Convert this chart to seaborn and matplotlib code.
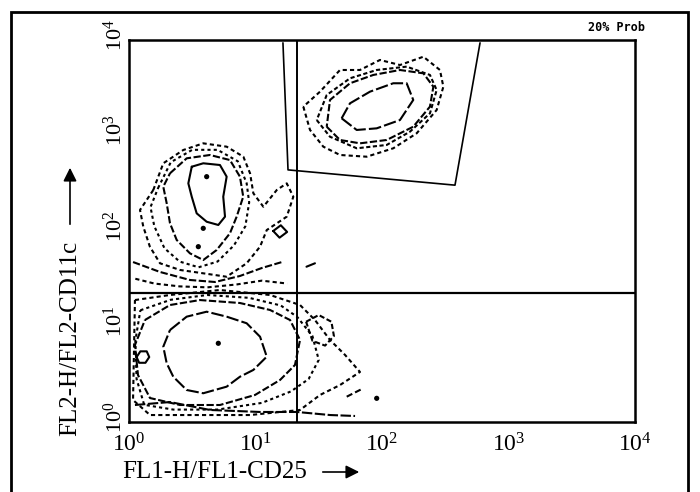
import numpy as np
import matplotlib
matplotlib.use("Agg")
import matplotlib.pyplot as plt
import matplotlib.transforms as mtrans
import seaborn as sns
from matplotlib.patches import Rectangle

# Contour outlines, given in decades (log10 of channel)
# CD11c+ CD25+ population (inside the gate)
hi_inner_x = [1.681, 1.800, 1.958, 2.142, 2.247, 2.195, 2.089, 1.905, 1.747]
hi_inner_y = [3.180, 3.058, 3.075, 3.162, 3.372, 3.547, 3.547, 3.459, 3.337]
hi_mid_x = [1.563, 1.668, 1.826, 2.037, 2.247, 2.379, 2.406, 2.327, 2.142, 1.931, 1.747, 1.589]
hi_mid_y = [3.092, 2.953, 2.918, 2.953, 3.092, 3.302, 3.511, 3.651, 3.686, 3.634, 3.547, 3.372]
hi_mid2_x = [1.484, 1.589, 1.800, 2.037, 2.221, 2.379, 2.432, 2.379, 2.195, 1.958, 1.747, 1.563]
hi_mid2_y = [3.162, 2.987, 2.866, 2.901, 3.040, 3.232, 3.476, 3.634, 3.721, 3.686, 3.599, 3.424]
hi_outer_x = [1.378, 1.431, 1.536, 1.668, 1.879, 2.089, 2.274, 2.432, 2.485, 2.458, 2.327, 2.142,
              1.984, 1.826, 1.668, 1.510]
hi_outer_y = [3.302, 3.058, 2.883, 2.796, 2.778, 2.866, 3.023, 3.267, 3.511, 3.686, 3.825, 3.738,
              3.791, 3.686, 3.686, 3.459]

# CD11c+ CD25- population (upper left)
dc_inner_x = [0.496, 0.587, 0.719, 0.772, 0.745, 0.759, 0.706, 0.614, 0.535, 0.496, 0.469]
dc_inner_y = [2.673, 2.709, 2.691, 2.569, 2.359, 2.150, 2.063, 2.097, 2.185, 2.359, 2.499]
dc_mid_x = [0.324, 0.456, 0.640, 0.798, 0.877, 0.903, 0.851, 0.798, 0.693, 0.587, 0.482, 0.377,
            0.324, 0.298, 0.271]
dc_mid_y = [2.604, 2.761, 2.796, 2.743, 2.569, 2.359, 2.150, 1.976, 1.801, 1.696, 1.766, 1.906,
            2.081, 2.290, 2.464]
dc_mid2_x = [0.23, 0.33, 0.50, 0.70, 0.86, 0.93, 0.95, 0.92, 0.83, 0.70, 0.55, 0.40, 0.28, 0.20, 0.17]
dc_mid2_y = [2.45, 2.72, 2.85, 2.85, 2.73, 2.50, 2.30, 2.05, 1.85, 1.68, 1.62, 1.68, 1.82, 2.05, 2.25]
dc_outer_x = [0.192, 0.271, 0.429, 0.587, 0.772, 0.904, 0.957, 0.983, 1.062, 1.168, 1.247, 1.299,
              1.247, 1.089, 1.036, 0.930, 0.772, 0.587, 0.403, 0.245, 0.165, 0.113, 0.087]
dc_outer_y = [2.429, 2.709, 2.848, 2.918, 2.883, 2.778, 2.604, 2.395, 2.254, 2.429, 2.499, 2.359,
              2.150, 2.010, 1.836, 1.662, 1.521, 1.557, 1.592, 1.662, 1.836, 2.045, 2.220]

# double negative population (lower left)
dn_inner_x = [0.324, 0.456, 0.614, 0.772, 0.930, 1.036, 1.089, 0.983, 0.877, 0.772, 0.587, 0.456,
              0.350, 0.298, 0.271]
dn_inner_y = [0.963, 1.103, 1.155, 1.103, 1.034, 0.893, 0.684, 0.545, 0.474, 0.370, 0.301, 0.335,
              0.474, 0.615, 0.789]
dn_mid_x = [0.126, 0.324, 0.561, 0.877, 1.115, 1.273, 1.352, 1.312, 1.194, 0.996, 0.719, 0.403,
            0.166, 0.071, 0.047]
dn_mid_y = [1.068, 1.225, 1.277, 1.246, 1.173, 1.068, 0.859, 0.597, 0.440, 0.283, 0.178, 0.178,
            0.251, 0.492, 0.806]
dn_mid2_x = [0.09, 0.33, 0.62, 0.95, 1.20, 1.33, 1.45, 1.50, 1.42, 1.28, 1.05, 0.70, 0.35, 0.12,
             0.06, 0.05]
dn_mid2_y = [1.17, 1.28, 1.33, 1.30, 1.22, 1.10, 0.90, 0.65, 0.45, 0.32, 0.20, 0.13, 0.13, 0.18,
             0.45, 0.85]
dn_outer_x = [0.047, 0.324, 0.719, 1.115, 1.352, 1.470, 1.589, 1.708, 1.826, 1.668, 1.510, 1.352,
              0.957, 0.561, 0.166, 0.032]
dn_outer_y = [1.277, 1.330, 1.382, 1.330, 1.225, 1.068, 0.859, 0.702, 0.524, 0.387, 0.283, 0.126,
              0.073, 0.073, 0.073, 0.230]
dn_small_x = [0.06, 0.09, 0.14, 0.16, 0.13, 0.08]
dn_small_y = [0.68, 0.74, 0.74, 0.68, 0.62, 0.62]
dn_side_x = [1.40, 1.50, 1.60, 1.62, 1.55, 1.45]
dn_side_y = [1.05, 1.12, 1.05, 0.90, 0.80, 0.85]

# open fragments
bridge_x = [0.032, 0.245, 0.482, 0.680, 0.877, 1.051, 1.209]
bridge_y = [1.675, 1.571, 1.487, 1.466, 1.529, 1.613, 1.675]
bridge2_x = [0.05, 0.20, 0.40, 0.62, 0.85, 1.05, 1.25]
bridge2_y = [1.50, 1.45, 1.42, 1.41, 1.44, 1.48, 1.45]
floor_x = [0.047, 0.324, 0.640, 1.036, 1.328, 1.589, 1.787]
floor_y = [0.178, 0.209, 0.126, 0.105, 0.105, 0.073, 0.063]
blob_x = [1.14, 1.20, 1.25, 1.19]
blob_y = [2.00, 2.06, 1.99, 1.93]
dash1_x = [1.403, 1.470]
dash1_y = [1.626, 1.662]
dash2_x = [1.721, 1.852]
dash2_y = [0.265, 0.353]
dots_x = [0.614, 0.548, 0.587, 0.706, 1.958]
dots_y = [2.569, 1.836, 2.028, 0.824, 0.248]

# gate and quadrant markers
gate_x = [1.217, 1.257, 2.577, 2.775]
gate_y = [3.97, 2.64, 2.48, 3.97]
quad_x = 21.3
quad_y = 22.4

x_ticks = [1, 10, 100, 1000, 10000]
y_ticks = [1, 10, 100, 1000, 10000]

sns.set_style("white")
plt.rcParams["font.family"] = ["Liberation Serif", "DejaVu Serif"]
plt.rcParams["mathtext.fontset"] = "stix"
for key in ["text.color", "axes.labelcolor", "xtick.color", "ytick.color"]:
    plt.rcParams[key] = "black"

fig = plt.figure(figsize=(7, 4.92), dpi=100)
ax = fig.add_axes([129 / 700, 1 - 422 / 492, 506 / 700, 382 / 492])
ax.set_xscale("log")
ax.set_yscale("log")


def trace(xs, ys, closed=True, lw=1.5, ls=(0, (3.5, 1.2))):
    xs = list(xs) + ([xs[0]] if closed else [])
    ys = list(ys) + ([ys[0]] if closed else [])
    sns.lineplot(x=10 ** np.array(xs), y=10 ** np.array(ys), sort=False, estimator=None,
                 color="black", lw=lw, linestyle=ls, ax=ax)


trace(hi_inner_x, hi_inner_y, ls=(0, (6, 1.5)))
trace(hi_mid_x, hi_mid_y)
trace(hi_mid2_x, hi_mid2_y, ls=(0, (2, 1.2)))
trace(hi_outer_x, hi_outer_y, ls=(0, (2, 1.5)))
trace(dc_inner_x, dc_inner_y, ls="-")
trace(dc_mid_x, dc_mid_y)
trace(dc_mid2_x, dc_mid2_y, ls=(0, (1.5, 1.5)))
trace(dc_outer_x, dc_outer_y, ls=(0, (2, 1.5)))
trace(dn_inner_x, dn_inner_y, ls=(0, (6, 1.5)))
trace(dn_mid_x, dn_mid_y)
trace(dn_mid2_x, dn_mid2_y, ls=(0, (1.5, 1.5)))
trace(dn_outer_x, dn_outer_y, ls=(0, (2, 1.5)))
trace(dn_small_x, dn_small_y, ls="-")
trace(dn_side_x, dn_side_y, ls=(0, (2.5, 1.2)))
trace(blob_x, blob_y, ls="-")
trace(bridge_x, bridge_y, closed=False)
trace(bridge2_x, bridge2_y, closed=False, ls=(0, (2, 1.5)))
trace(floor_x, floor_y, closed=False, ls=(0, (5, 1.2)))
trace(dash1_x, dash1_y, closed=False, ls="-")
trace(dash2_x, dash2_y, closed=False, ls=(0, (3, 1.5)))
sns.scatterplot(x=10 ** np.array(dots_x), y=10 ** np.array(dots_y), color="black",
                s=14, edgecolor="none", ax=ax)

# gate polygon and quadrant lines
trace(gate_x, gate_y, closed=False, lw=1.2, ls="-")
ax.axvline(quad_x, color="black", lw=1.4)
ax.axhline(quad_y, color="black", lw=1.6)

ax.set_xlim(1, 10000)
ax.set_ylim(1, 10000)
ax.set_xticks(x_ticks)
ax.set_yticks(y_ticks)
ax.tick_params(which="major", direction="out", length=5, width=1.3, labelsize=17, pad=2)
ax.tick_params(which="minor", direction="out", length=2.5, width=1)
ax.tick_params(axis="y", labelrotation=90, pad=-3.5, labelsize=16)
ax.tick_params(axis="x", pad=3)
shift_up = mtrans.ScaledTranslation(0, 5 / 100, fig.dpi_scale_trans)
for lab in ax.get_yticklabels():
    lab.set_va("center")
    lab.set_transform(lab.get_transform() + shift_up)
for sp in ax.spines.values():
    sp.set_visible(True)
    sp.set_color("black")
    sp.set_linewidth(1.8)

ax.text(1.02, 1.016, "20% Prob", transform=ax.transAxes, ha="right", va="bottom",
        fontsize=8.5, fontweight="bold", family="DejaVu Sans Mono")

# axis titles with arrows
fig.text(215 / 700, 1 - 472 / 492, "FL1-H/FL1-CD25", ha="center", va="center", fontsize=18)
fig.text(70 / 700, 1 - 338 / 492, "FL2-H/FL2-CD11c", ha="center", va="center",
         rotation=90, fontsize=18)
arrow = dict(arrowstyle="-|>", color="black", lw=1.2, mutation_scale=20)
ax.annotate("", xy=(362 / 700, 1 - 472 / 492), xytext=(320 / 700, 1 - 472 / 492),
            xycoords="figure fraction", textcoords="figure fraction", arrowprops=arrow)
ax.annotate("", xy=(70 / 700, 1 - 165 / 492), xytext=(70 / 700, 1 - 227 / 492),
            xycoords="figure fraction", textcoords="figure fraction", arrowprops=arrow)

# outer frame of the panel
fig.add_artist(Rectangle((11 / 700, -0.05), 677 / 700, 1.05 - 12 / 492, transform=fig.transFigure,
                         fill=False, edgecolor="black", lw=2))

fig.savefig("out.png", dpi=100)
